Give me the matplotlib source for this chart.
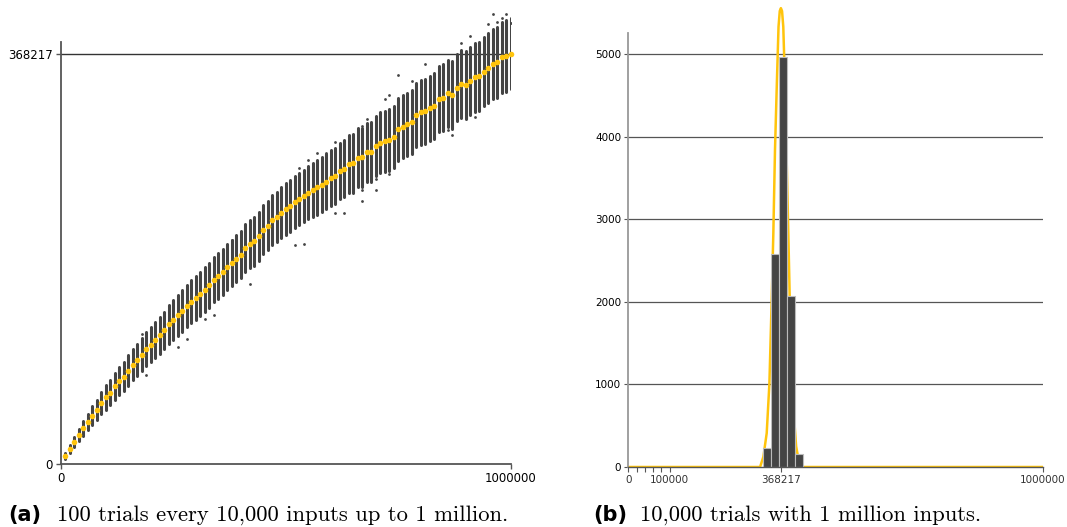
import matplotlib
matplotlib.use("Agg")
import matplotlib.pyplot as plt

# ---- left panel: 100 trials at every 10,000 inputs ----
inputs = list(range(10000, 1000001, 10000))
mean_distinct = [
    7000, 13500, 20000, 26100, 32000, 37800, 43500, 48800, 54900, 59900,
    64100, 69800, 74300, 78500, 83900, 89300, 93600, 98300, 103500, 107300,
    111500, 115700, 119900, 125300, 129500, 133400, 137300, 141800, 145700, 149300,
    152900, 156500, 160400, 165500, 168800, 172400, 176900, 180500, 184400, 187800,
    194200, 197600, 200000, 204500, 210500, 214100, 219200, 221600, 225700, 228800,
    231500, 235400, 237800, 240500, 243700, 246200, 248400, 250800, 253400, 256800,
    258800, 263000, 265000, 269500, 270000, 274900, 275500, 279800, 280300, 285700,
    288400, 289900, 290800, 293500, 300500, 302800, 305000, 307000, 313300, 315800,
    316700, 319400, 321700, 327700, 328900, 332900, 331300, 337900, 341200, 340600,
    343900, 347200, 348400, 352300, 355900, 358900, 360700, 365200, 366400, 368217,
]
spread = [
    2800, 3800, 4600, 5500, 6600, 7500, 8300, 9100, 9900, 11000,
    11500, 12100, 12600, 13200, 13700, 14100, 14500, 14800, 15200, 15400,
    15900, 16500, 16800, 17400, 17800, 18100, 18700, 19000, 19500, 19800,
    19800, 20100, 20300, 20300, 20600, 20700, 20900, 20900, 21100, 21200,
    21500, 21500, 21800, 22000, 22000, 22300, 22500, 22500, 22900, 23100,
    23100, 23400, 23600, 23600, 24000, 24200, 24400, 24500, 24700, 25000,
    25300, 25300, 25600, 25800, 26200, 26400, 26400, 26700, 26900, 27200,
    27500, 27500, 27800, 28000, 28000, 28400, 28600, 28600, 28900, 29100,
    29100, 29400, 29700, 29700, 29900, 30000, 30200, 30200, 30500, 30600,
    30800, 30800, 31000, 31100, 31300, 31300, 31600, 31700, 31900, 31900,
]
outlier_x = [960000, 990000, 970000, 950000, 980000, 1000000, 910000, 890000,
             750000, 810000, 780000, 720000, 730000, 680000, 670000, 610000,
             570000, 530000, 550000, 920000, 870000, 860000, 960000, 730000,
             700000, 670000, 610000, 520000, 180000, 150000, 120000, 190000,
             260000, 280000, 320000, 340000, 420000, 240000, 280000, 320000,
             420000, 380000, 390000, 470000, 550000, 590000, 540000, 630000,
             670000, 700000]
outlier_y = [403900, 404200, 396700, 395200, 400300, 395800, 384700, 377800,
             349300, 359200, 343900, 328000, 331600, 309500, 303400, 289300,
             278900, 265400, 272800, 311300, 295300, 299800, 328900, 260300,
             255500, 245900, 225800, 197000, 116300, 95400, 80100, 80300,
             104900, 112400, 130400, 133400, 161900, 140300, 159500, 170300,
             212300, 200900, 204500, 231500, 265400, 278900, 197300, 225800,
             236000, 246500]
yticks_left = [0, 368217]
xticks_left = [0, 1000000]

# ---- right panel: 10,000 trials with 1 million inputs ----
bin_edges = [326000, 345000, 364000, 383000, 402000, 421000]
bin_counts = [230, 2580, 4960, 2070, 160]
curve_x = [0, 318000, 326000, 334000, 340500, 346000, 350000, 354000, 358500,
           362500, 365500, 368217, 371000, 374000, 378000, 382500, 386500,
           390500, 397000, 405000, 414000, 1000000]
curve_y = [0, 0, 125, 410, 1010, 2020, 2830, 3840, 4650,
           5330, 5520, 5555, 5520, 5330, 4650, 3640, 2750,
           1820, 810, 250, 0, 0]
grid_levels = [1000, 2000, 3000, 4000, 5000]
xticks_right = [0, 20000, 40000, 60000, 80000, 100000, 368217, 1000000]
xlabels_right = ["0", "", "", "", "", "100000", "368217", "1000000"]

gold = "#FFC40C"
dark = "#444444"

fig = plt.figure(figsize=(10.67, 5.27), dpi=100)

ax1 = fig.add_axes([60.5 / 1067, 63 / 527, 450.2 / 1067, 454 / 527])
lows = [m - s for m, s in zip(mean_distinct, spread)]
highs = [m + s for m, s in zip(mean_distinct, spread)]
ax1.axhline(368217, color="#333333", lw=1.0, zorder=1)
ax1.vlines(inputs, lows, highs, color=dark, lw=2.2, zorder=2, capstyle="round")
ax1.scatter(outlier_x, outlier_y, s=4, color=dark, zorder=2, linewidths=0)
ax1.scatter(inputs, mean_distinct, s=16, color=gold, zorder=3, linewidths=0,
            clip_on=False)
ax1.set_xlim(0, 1000000)
ax1.set_ylim(0, 407700)
ax1.set_xticks(xticks_left)
ax1.set_xticklabels([str(v) for v in xticks_left])
ax1.set_yticks(yticks_left)
ax1.set_yticklabels([str(v) for v in yticks_left])
for side in ["top", "right"]:
    ax1.spines[side].set_visible(False)
for side in ["left", "bottom"]:
    ax1.spines[side].set_color("#555555")
    ax1.spines[side].set_linewidth(1.3)
ax1.spines["left"].set_bounds(0, 379000)
ax1.tick_params(length=3.5, width=1, color="#555555", labelsize=8.5, pad=2)

ax2 = fig.add_axes([628.3 / 1067, 60 / 527, 414.4 / 1067, 462 / 527])
for g in grid_levels:
    ax2.axhline(g, color="#555555", lw=0.9, zorder=0)
ax2.plot(curve_x, curve_y, color=gold, lw=1.8, zorder=1)
ax2.bar(bin_edges[:-1], bin_counts, width=[b - a for a, b in zip(bin_edges[:-1], bin_edges[1:])],
        align="edge", color=dark, edgecolor="#bbbbbb", linewidth=0.8, zorder=2)
ax2.set_xlim(0, 1000000)
ax2.set_ylim(0, 5593)
ax2.set_xticks(xticks_right)
ax2.set_xticklabels(xlabels_right, color="#333333")
ax2.set_yticks([0] + grid_levels)
ax2.set_yticklabels([str(v) for v in [0] + grid_levels])
for side in ["top", "right"]:
    ax2.spines[side].set_visible(False)
ax2.spines["left"].set_color("#999999")
ax2.spines["left"].set_linewidth(1.3)
ax2.spines["left"].set_bounds(0, 5254)
ax2.spines["bottom"].set_color("#555555")
ax2.spines["bottom"].set_linewidth(1.0)
ax2.tick_params(axis="x", length=3.5, width=0.8, color="#555555", labelsize=7.5, pad=2)
ax2.tick_params(axis="y", length=3, width=0.8, color="#555555", labelsize=7.5, pad=2)

# captions
fig.text(8 / 1067, 0.012, "(a)", fontsize=15, fontweight="bold", family="DejaVu Sans")
fig.text(57 / 1067, 0.012, "100 trials every 10,000 inputs up to 1 million.",
         fontsize=16.3, family="cmr10")
fig.text(593 / 1067, 0.012, "(b)", fontsize=15, fontweight="bold", family="DejaVu Sans")
fig.text(640 / 1067, 0.012, "10,000 trials with 1 million inputs.",
         fontsize=16.3, family="cmr10")

fig.savefig("out.png", dpi=100)
